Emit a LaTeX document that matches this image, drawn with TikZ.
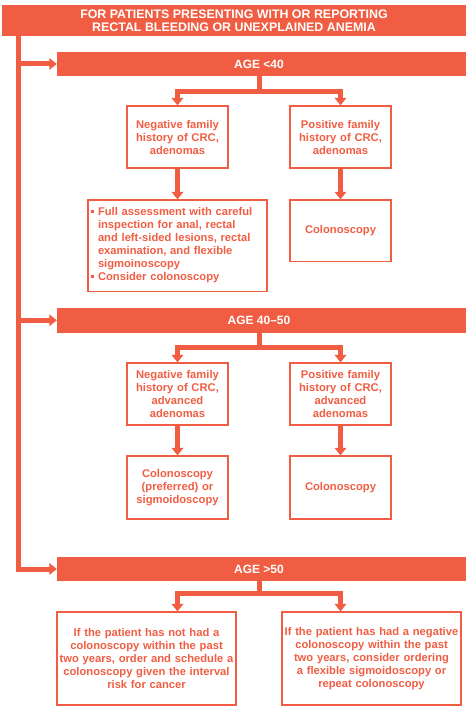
\documentclass[tikz,border=0pt]{standalone}
\usepackage{fontspec}
\setmainfont{Liberation Sans}
\usetikzlibrary{arrows.meta,calc}
\definecolor{flow}{RGB}{240,93,66}
\begin{document}
\begin{tikzpicture}[x=1pt,y=-1pt,
  bar/.style={fill=flow,draw=none,text=white,inner sep=0pt,
    font=\bfseries\fontsize{12}{13}\selectfont,align=center,minimum height=24pt},
  box/.style={draw=flow,line width=1.2pt,text=flow,inner sep=2pt,
    font=\bfseries\fontsize{11.2}{13}\selectfont,align=center},
  conn/.style={draw=flow,line width=5pt,line join=miter},
  arr/.style={conn,-{Triangle[width=11.5pt,length=7.5pt]}}]
\useasboundingbox (0,0) rectangle (466,708);
% header and age bars
\node[bar,minimum width=464pt,minimum height=31pt,font=\bfseries\fontsize{12.4}{13}\selectfont] (hdr) at (234,20.5)
  {FOR PATIENTS PRESENTING WITH OR REPORTING\\RECTAL BLEEDING OR UNEXPLAINED ANEMIA};
\node[bar,minimum width=409pt] (age1) at (261.5,64) {\hspace*{-5pt}AGE {<}40};
\node[bar,minimum width=409pt,minimum height=24.7pt] (age2) at (261.5,320.3) {\hspace*{-5pt}AGE 40–50};
\node[bar,minimum width=409pt] (age3) at (261.5,569) {\hspace*{-5pt}AGE {>}50};
% level 1
\node[box,minimum width=101pt,minimum height=62pt,text width=97pt] (neg1) at (177.5,137)
  {Negative family\\history of CRC,\\adenomas};
\node[box,minimum width=101pt,minimum height=62pt,text width=97pt] (pos1) at (340.5,137)
  {Positive family\\history of CRC,\\adenomas};
\node[box,minimum width=179pt,minimum height=91.7pt,text width=174pt,align=left] (full) at (177.5,245.8)
  {\begin{tabular}{@{}l@{\hspace{4.5pt}}l@{}}
   \raisebox{2.8pt}{\rule{3pt}{3pt}} & Full assessment with careful\\
   & inspection for anal, rectal\\
   & and left-sided lesions, rectal\\
   & examination, and flexible\\
   & sigmoinoscopy\\
   \raisebox{2.8pt}{\rule{3pt}{3pt}} & Consider colonoscopy
   \end{tabular}};
\node[box,minimum width=101pt,minimum height=61.7pt,text width=97pt] (col1) at (340.5,230.8)
  {Colonoscopy};
% level 2
\node[box,minimum width=101pt,minimum height=62pt,text width=97pt] (neg2) at (177.5,394)
  {Negative family\\history of CRC,\\advanced\\adenomas};
\node[box,minimum width=101pt,minimum height=62pt,text width=97pt] (pos2) at (340.5,394)
  {Positive family\\history of CRC,\\advanced\\adenomas};
\node[box,minimum width=101pt,minimum height=63pt,text width=97pt] (col2a) at (177.5,487.5)
  {Colonoscopy\\(preferred) or\\sigmoidoscopy};
\node[box,minimum width=101pt,minimum height=63pt,text width=97pt] (col2b) at (340.5,487.5)
  {Colonoscopy};
% level 3
\node[box,minimum width=179pt,minimum height=93pt,text width=175pt] (l3) at (146.5,658.5)
  {If the patient has not had a\\colonoscopy within the past\\two years, order and schedule a\\colonoscopy given the interval\\risk for cancer};
\node[box,minimum width=179pt,minimum height=93pt,text width=175pt] (r3) at (371.5,658.5)
  {If the patient has had a negative\\colonoscopy within the past\\two years, consider ordering\\a flexible sigmoidoscopy or\\repeat colonoscopy};
% trunk
\coordinate (trunk) at (18.5,36);
\draw[arr] (trunk) |- (age3.west);
\draw[arr] (trunk |- age1.west) -- (age1.west);
\draw[arr] (trunk |- age2.west) -- (age2.west);
% fork centres
\coordinate (c1) at ($(neg1.north)!.5!(pos1.north)$);
\coordinate (c2) at ($(neg2.north)!.5!(pos2.north)$);
% forks
\draw[conn] (c1 |- age1.south) -- ++(0,15.8) coordinate (m1);
\draw[arr] (m1) -| (neg1.north);
\draw[arr] (m1) -| (pos1.north);
\draw[arr] (neg1.south) -- (full.north);
\draw[arr] (pos1.south) -- (col1.north);
\draw[conn] (c2 |- age2.south) -- ++(0,14.8) coordinate (m2);
\draw[arr] (m2) -| (neg2.north);
\draw[arr] (m2) -| (pos2.north);
\draw[arr] (neg2.south) -- (col2a.north);
\draw[arr] (pos2.south) -- (col2b.north);
\draw[conn] (c2 |- age3.south) -- ++(0,11.8) coordinate (m3);
\draw[arr] (m3) -| (l3.north -| neg2.north);
\draw[arr] (m3) -| (r3.north -| pos2.north);
\end{tikzpicture}
\end{document}
